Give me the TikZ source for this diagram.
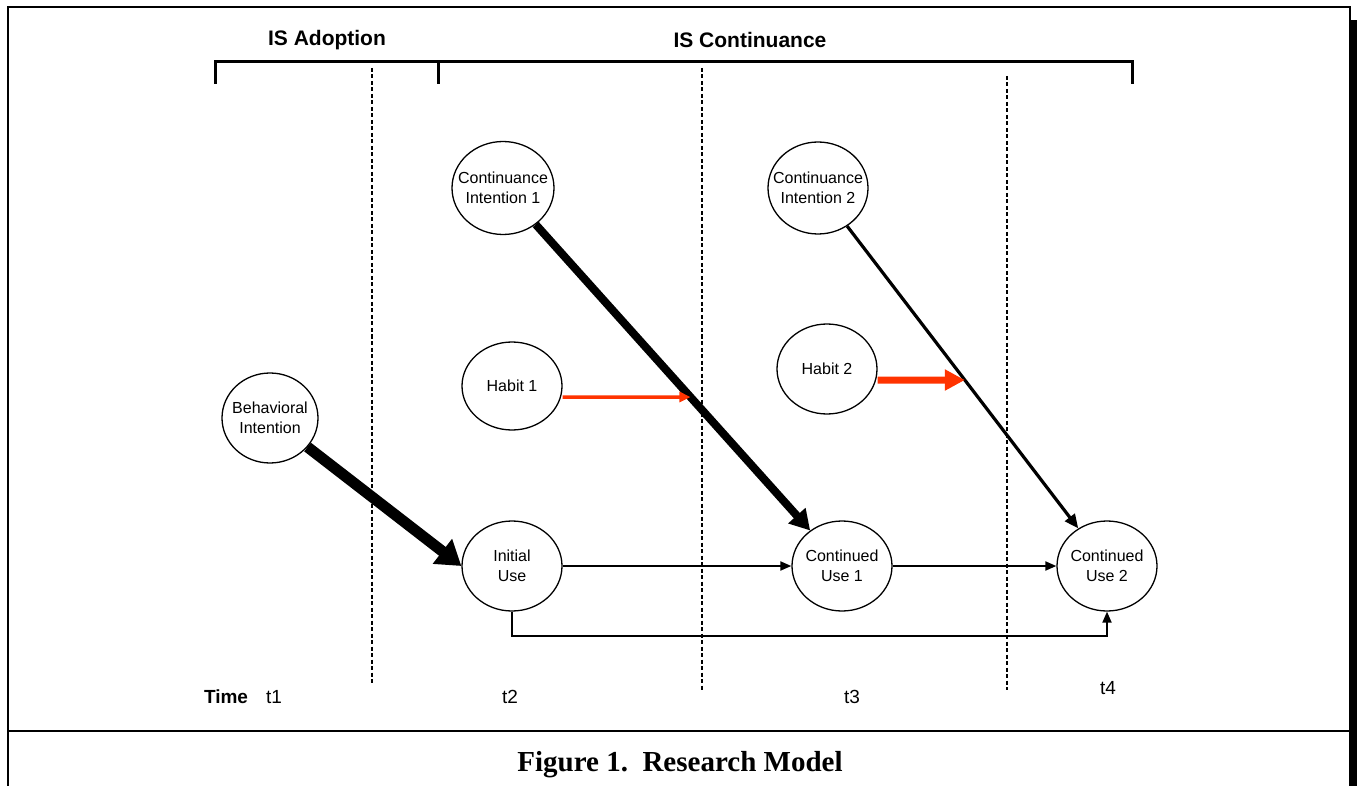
\documentclass[tikz,border=0pt]{standalone}
\usepackage{fontspec}
\setmainfont{Liberation Sans}
\newfontfamily\capfont{Liberation Serif}
\usetikzlibrary{shapes.geometric,arrows.meta,calc}
\definecolor{hred}{HTML}{FF3300}
\tikzset{
  state/.style={ellipse,draw,line width=1.3pt,minimum width=100pt,minimum height=90pt,inner xsep=-12pt,inner ysep=0pt,align=center,font=\fontsize{16}{20}\selectfont},
  frameline/.style={line width=2pt},
  bracket/.style={line width=3pt},
  divider/.style={dashed,line width=1.4pt,dash pattern=on 4pt off 2.5pt},
  thin/.style={line width=2pt,-{Triangle[length=11pt,width=9pt]}},
  header/.style={font=\fontsize{21}{24}\selectfont\bfseries},
  tlabel/.style={font=\fontsize{19}{22}\selectfont}
}
\begin{document}
\begin{tikzpicture}[x=1pt,y=-1pt]
\useasboundingbox (0,0) rectangle (1357,786);
% frame
\draw[frameline] (8,786) -- (8,7) -- (1350,7) -- (1350,786);
\fill (1351,20) rectangle (1357,786);
\draw[frameline] (8,731) -- (1350,731);
% headers
\node[header] (hadopt) at (327,40) {IS Adoption};
\node[header] (hcont) at (750,40) {IS Continuance};
\draw[bracket] (215,84) -- (215,62) -- (438,62) -- (438,84);
\draw[bracket] (438,62) -- (1132,62) -- (1132,84);
% dividers
\draw[divider] (372,68) -- (372,683);
\draw[divider] (702,68) -- (702,690);
\draw[divider] (1007,76) -- (1007,690);
% nodes
\node[state,minimum width=96pt] (bi) at (270,418) {Behavioral\\Intention};
\node[state,minimum width=102pt,minimum height=93pt] (ci1) at (503,188) {Continuance\\Intention 1};
\node[state,minimum width=100pt,minimum height=92pt] (ci2) at (818,188) {Continuance\\Intention 2};
\node[state,minimum height=88pt] (h1) at (512,386) {Habit 1};
\node[state] (h2) at (827,369) {Habit 2};
\node[state] (iu) at (512,566) {Initial\\Use};
\node[state] (cu1) at (842,566) {Continued\\Use 1};
\node[state] (cu2) at (1107,566) {Continued\\Use 2};
% main arrows
\draw[line width=11pt,-{Triangle[length=24pt,width=30pt]}] (bi) -- (iu.west);
\draw[line width=8pt,-{Triangle[length=20pt,width=22pt]}] (ci1) -- (cu1);
\draw[line width=3.2pt,-{Triangle[length=14pt,width=12pt]}] (ci2) -- (cu2);
% moderating arrows
\coordinate (h1a) at ($(h1.east)+(0,11)$);
\coordinate (m1) at (intersection of ci1--cu1 and h1a--{$(h1a)+(200,0)$});
\draw[hred,line width=3.5pt,-{Triangle[length=11pt,width=10pt]}] (h1a) -- (m1);
\coordinate (h2a) at ($(h2.east)+(0,11)$);
\coordinate (m2) at (intersection of ci2--cu2 and h2a--{$(h2a)+(200,0)$});
\draw[hred,line width=7pt,-{Triangle[length=20pt,width=20pt]}] (h2a) -- (m2);
% use arrows
\draw[thin] (iu) -- (cu1);
\draw[thin] (cu1) -- (cu2);
\coordinate (low) at (512,636);
\draw[thin] (iu.south) -- (low) -| (cu2.south);
% time labels
\node[tlabel,font=\fontsize{19}{22}\selectfont\bfseries] (time) at (226,697) {Time};
\node[tlabel] (t1) at (274,697) {t1};
\node[tlabel] (t2) at (510,697) {t2};
\node[tlabel] (t3) at (852,697) {t3};
\node[tlabel] (t4) at (1108,688) {t4};
% caption
\node[font=\capfont\fontsize{29}{33}\selectfont\bfseries] (cap) at (680,765) {Figure 1.\ \ Research Model};
\end{tikzpicture}
\end{document}
